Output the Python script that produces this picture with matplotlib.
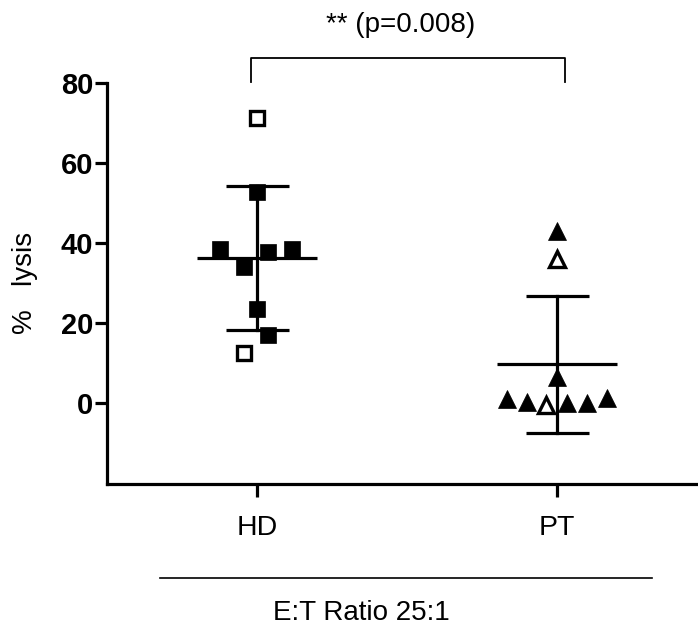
import matplotlib
matplotlib.use("Agg")
import matplotlib.pyplot as plt
import numpy as np

plt.rcParams['font.family'] = ['Liberation Sans', 'DejaVu Sans']

groups = ["HD", "PT"]
# HD values (squares) with x-jitter offsets; open markers flagged
hd_values = [71.25, 52.75, 38.5, 34.0, 37.75, 38.5, 23.5, 17.0, 12.5]
hd_jitter = [0.0, 0.0, -0.123, -0.043, 0.037, 0.116, 0.0, 0.037, -0.043]
hd_open = [True, False, False, False, False, False, False, False, True]
# PT values (triangles)
pt_values = [43.0, 36.0, 6.5, 1.0, 0.25, -0.5, 0.0, 0.0, 1.25]
pt_jitter = [0.0, 0.0, 0.0, -0.166, -0.1, -0.037, 0.033, 0.1, 0.166]
pt_open = [False, True, False, False, False, True, False, False, False]

yticks = [0, 20, 40, 60, 80]
annotation = "** (p=0.008)"
xlabel = "E:T Ratio 25:1"
ylabel = "%   lysis"

fig = plt.figure(figsize=(6.98, 6.33), dpi=100)
ax = fig.add_axes([107/698, 1-484/633, 1-107/698, (484-83)/633])
ax.set_xlim(-0.5, 1.47)
ax.set_ylim(-20.25, 80)

lw = 2.3
for xpos, vals, jit, opn, mk in [(0, hd_values, hd_jitter, hd_open, 's'),
                                 (1, pt_values, pt_jitter, pt_open, '^')]:
    v = np.array(vals)
    m = v.mean()
    sd = v.std(ddof=1)
    ax.plot([xpos-0.2, xpos+0.2], [m, m], color='black', lw=lw, solid_capstyle='butt', zorder=2)
    ax.plot([xpos, xpos], [m-sd, m+sd], color='black', lw=lw, zorder=2)
    for yy in (m-sd, m+sd):
        ax.plot([xpos-0.105, xpos+0.105], [yy, yy], color='black', lw=lw, solid_capstyle='butt', zorder=2)
    for val, j, o in zip(vals, jit, opn):
        ms = 11 if mk == 's' else 12.5
        if o:
            ax.plot(xpos+j, val, marker=mk, ms=ms-1.5, mfc='white', mec='black', mew=2.4, zorder=3)
        else:
            ax.plot(xpos+j, val, marker=mk, ms=ms, mfc='black', mec='black', mew=0.5, zorder=3)

for s in ['top', 'right']:
    ax.spines[s].set_visible(False)
for s in ['left', 'bottom']:
    ax.spines[s].set_linewidth(lw)
ax.spines['left'].set_bounds(-20.25, 80)

ax.set_yticks(yticks)
ax.set_yticklabels([str(t) for t in yticks], fontsize=21, fontweight='bold')
ax.set_xticks([0, 1])
ax.set_xticklabels(groups, fontsize=20.5)
ax.tick_params(axis='both', direction='out', length=9, width=lw)
ax.tick_params(axis='y', pad=1)
ax.tick_params(axis='x', pad=13)
ax.set_ylabel(ylabel, fontsize=20)
ax.yaxis.set_label_coords(-0.117, 0.501)

# significance bracket
ax.plot([-0.02, -0.02, 1.025, 1.025], [80.25, 86.25, 86.25, 80.25], color='black', lw=1.3, clip_on=False)
ax.text(0.48, 94.5, annotation, ha='center', va='center', fontsize=20)

# bottom grouping line and label
ax.plot([-0.323, 1.317], [-43.75, -43.75], color='black', lw=1.2, clip_on=False)
ax.text(0.348, -52.5, xlabel, ha='center', va='center', fontsize=20)

fig.savefig("out.png", dpi=100)
